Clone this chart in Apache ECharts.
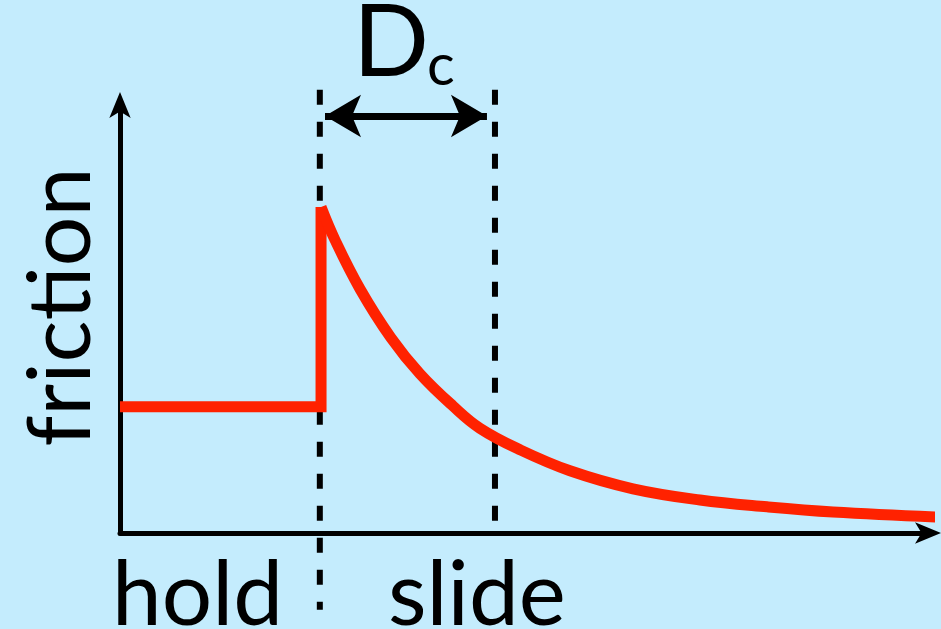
<!DOCTYPE html>
<html>
<head>
<meta charset="utf-8">
<script src="https://cdn.jsdelivr.net/npm/echarts@6/dist/echarts.min.js"></script>
<style>
  html, body { margin: 0; padding: 0; background: #C4ECFD; }
  #main { width: 941px; height: 629px; }
</style>
</head>
<body>
<div id="main"></div>
<script>
// hold phase: flat friction, then the jump at the start of sliding
var holdX = [0, 2.485, 2.485];
var holdY = [2.94, 2.94, 7.60];
// slide phase: decay of friction after the peak
var slideX = [2.485, 2.658, 2.967, 3.350, 3.708, 4.116, 4.450, 4.944, 5.562, 6.341, 7.169, 7.998, 8.813, 10.148];
var slideY = [7.60, 6.83, 5.69, 4.55, 3.71, 2.96, 2.44, 1.94, 1.45, 1.03, 0.77, 0.61, 0.49, 0.37];
// dashed guide lines (x position, top, bottom)
var guideX = [2.47, 4.635];
var guideTop = [10.33, 10.33];
var guideBottom = [-1.79, 0.19];
// Dc arrow
var dcFrom = 2.534;
var dcTo = 4.536;
var dcY = 9.72;

var chart = echarts.init(document.getElementById('main'));

function pairs(xs, ys) {
  var out = [];
  for (var i = 0; i < xs.length; i++) out.push([xs[i], ys[i]]);
  return out;
}

var redLine = { color: '#FF2200', width: 11, cap: 'butt', join: 'miter' };

var series = [];
for (var g = 0; g < guideX.length; g++) {
  series.push({
    type: 'line',
    clip: false,
    symbol: 'none',
    silent: true,
    data: [[guideX[g], guideTop[g]], [guideX[g], guideBottom[g]]],
    lineStyle: { color: '#000', width: 6, type: [15, 17] }
  });
}
series.push({
  type: 'line',
  clip: false,
  symbol: 'none',
  data: pairs(holdX, holdY),
  lineStyle: redLine
});
series.push({
  type: 'line',
  clip: false,
  symbol: 'none',
  smooth: 0.4,
  data: pairs(slideX, slideY),
  lineStyle: redLine
});
// double arrow for Dc
series.push({
  type: 'line',
  clip: false,
  symbol: 'none',
  data: [],
  markLine: {
    silent: true,
    symbol: ['arrow', 'arrow'],
    symbolSize: [32, 36],
    label: { show: false },
    lineStyle: { color: '#000', width: 7, type: 'solid' },
    data: [[{ coord: [dcFrom, dcY] }, { coord: [dcTo, dcY] }]]
  }
});

var axisLine = {
  show: true,
  onZero: false,
  symbol: ['none', 'arrow'],
  symbolSize: [16, 26],
  symbolOffset: [0, 12],
  lineStyle: { color: '#000', width: 5 }
};

var option = {
  backgroundColor: '#C4ECFD',
  animation: false,
  grid: { left: 120, right: 12, top: 104, bottom: 96 },
  xAxis: {
    type: 'value',
    min: 0,
    max: 10,
    axisLine: axisLine,
    axisTick: { show: false },
    axisLabel: { show: false },
    splitLine: { show: false }
  },
  yAxis: {
    type: 'value',
    min: 0,
    max: 10,
    axisLine: axisLine,
    axisTick: { show: false },
    axisLabel: { show: false },
    splitLine: { show: false }
  },
  graphic: [
    { type: 'text', x: 62, y: 307, rotation: Math.PI / 2,
      style: { text: 'friction', font: '88px Lato', fill: '#000', align: 'center', verticalAlign: 'middle', textAlign: 'center', textVerticalAlign: 'middle' } },
    { type: 'text', x: 112, y: 596,
      style: { text: 'hold', font: '89px Lato', fill: '#000', align: 'left', verticalAlign: 'middle', textAlign: 'left', textVerticalAlign: 'middle' } },
    { type: 'text', x: 388, y: 596,
      style: { text: 'slide', font: '89px Lato', fill: '#000', align: 'left', verticalAlign: 'middle', textAlign: 'left', textVerticalAlign: 'middle' } },
    { type: 'text', x: 353, y: 44,
      style: { text: 'D', font: '100px Lato', fill: '#000', align: 'left', verticalAlign: 'middle', textAlign: 'left', textVerticalAlign: 'middle' } },
    { type: 'text', x: 427, y: 66,
      style: { text: 'c', font: '58px Lato', fill: '#000', align: 'left', verticalAlign: 'middle', textAlign: 'left', textVerticalAlign: 'middle' } }
  ],
  series: series
};

chart.setOption(option);
</script>
</body>
</html>
